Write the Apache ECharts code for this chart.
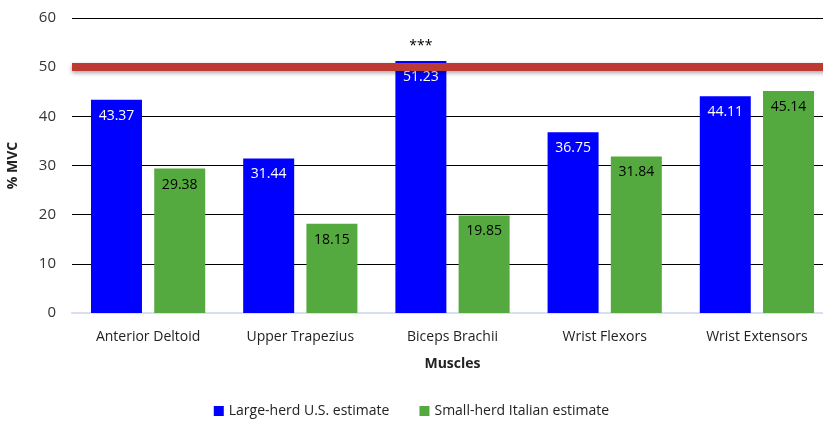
<!DOCTYPE html>
<html>
<head>
<meta charset="utf-8">
<script src="https://cdn.jsdelivr.net/npm/echarts@6/dist/echarts.min.js"></script>
<style>
  html, body { margin: 0; padding: 0; background: #fff; }
  #main { width: 823px; height: 427px; }
</style>
</head>
<body>
<div id="main"></div>
<script>
var categories = ['Anterior Deltoid', 'Upper Trapezius', 'Biceps Brachii', 'Wrist Flexors', 'Wrist Extensors'];
var usValues = [43.37, 31.44, 51.23, 36.75, 44.11];
var italianValues = [29.38, 18.15, 19.85, 31.84, 45.14];
var thresholdValue = 50;
var yTicks = [0, 10, 20, 30, 40, 50, 60];

var fontFamily = 'Open Sans, Noto Sans, sans-serif';
var myChart = echarts.init(document.getElementById('main'));

var option = {
    animation: false,
    textStyle: { fontFamily: fontFamily },
    legend: {
        bottom: 4,
        left: 'center',
        itemWidth: 10,
        itemHeight: 10,
        itemGap: 30,
        icon: 'rect',
        textStyle: { fontSize: 14, color: '#222' },
        data: ['Large-herd U.S. estimate', 'Small-herd Italian estimate']
    },
    grid: {
        left: 72,
        top: 18,
        right: -10,
        height: 295,
        outerBoundsMode: 'none',
        containLabel: false
    },
    xAxis: {
        type: 'category',
        data: categories,
        name: 'Muscles',
        nameLocation: 'middle',
        nameGap: 44,
        nameTextStyle: { fontSize: 14, fontWeight: 'bold', color: '#222' },
        axisLine: { show: true, lineStyle: { color: '#d6e0ee', width: 2 } },
        axisTick: { show: false },
        axisLabel: { fontSize: 14, color: '#222', margin: 17 }
    },
    yAxis: {
        type: 'value',
        min: yTicks[0],
        max: yTicks[yTicks.length - 1],
        interval: 10,
        name: '% MVC',
        nameLocation: 'middle',
        nameGap: 52,
        nameTextStyle: { fontSize: 14, fontWeight: 'bold', color: '#222' },
        axisLine: { show: false },
        axisTick: { show: false },
        axisLabel: { fontSize: 15, color: '#333', margin: 16 },
        splitLine: { show: true, lineStyle: { color: '#000', width: 1 } }
    },
    series: [
        {
            name: 'Large-herd U.S. estimate',
            type: 'bar',
            data: usValues,
            barWidth: 51,
            barGap: '24%',
            itemStyle: { color: '#0000ff' },
            label: {
                show: true,
                position: 'insideTop',
                distance: 9,
                color: '#fff',
                fontSize: 14,
                formatter: function (p) { return p.value.toFixed(2); }
            },
            markPoint: {
                symbol: 'rect',
                symbolSize: 0,
                silent: true,
                label: {
                    show: true,
                    position: 'top',
                    distance: 8,
                    color: '#000',
                    fontSize: 14,
                    formatter: '***'
                },
                data: [{ coord: [categories[2], usValues[2]] }]
            },
            z: 2
        },
        {
            name: 'Small-herd Italian estimate',
            type: 'bar',
            data: italianValues,
            barWidth: 51,
            itemStyle: { color: '#55aa3f' },
            label: {
                show: true,
                position: 'insideTop',
                distance: 9,
                color: '#000',
                fontSize: 14,
                formatter: function (p) { return p.value.toFixed(2); }
            },
            markLine: {
                silent: true,
                symbol: ['none', 'none'],
                label: { show: false },
                lineStyle: {
                    color: '#bd3a34',
                    width: 8,
                    type: 'solid',
                    shadowColor: 'rgba(0,0,0,0.35)',
                    shadowBlur: 4,
                    shadowOffsetY: 2
                },
                data: [{ yAxis: thresholdValue }]
            },
            z: 3
        }
    ]
};

myChart.setOption(option);
</script>
</body>
</html>
